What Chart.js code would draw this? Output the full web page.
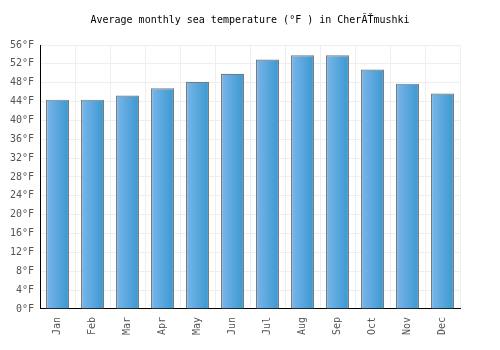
<!DOCTYPE html>
<html>
<head>
<meta charset="utf-8">
<script src="https://cdn.jsdelivr.net/npm/chart.js@4/dist/chart.umd.min.js"></script>
<style>
  html, body { margin: 0; padding: 0; background: #fff; }
  #wrap { width: 500px; height: 350px; }
</style>
</head>
<body>
<div id="wrap"><canvas id="chart" width="500" height="350"></canvas></div>
<script>
const months = ['Jan', 'Feb', 'Mar', 'Apr', 'May', 'Jun', 'Jul', 'Aug', 'Sep', 'Oct', 'Nov', 'Dec'];
const seaTempF = [44.4, 44.4, 45.3, 46.8, 48.2, 49.9, 52.9, 53.8, 53.8, 50.8, 47.8, 45.7];
const yMin = 0;
const yMax = 56;
const yStep = 4;
const titleText = 'Average monthly sea temperature (°F ) in CherĂŤmushki';

const mono = 'DejaVu Sans Mono, monospace';
const barPct = 0.66;

// left-to-right blue gradient for each bar, built from the x scale
function barFill(c) {
  const chart = c.chart;
  const xs = chart.scales.x;
  if (!xs || !chart.chartArea || c.dataIndex === undefined) return '#5aa8de';
  const cx = xs.getPixelForValue(c.dataIndex);
  const half = (chart.chartArea.width / months.length) * barPct / 2;
  const g = chart.ctx.createLinearGradient(cx - half, 0, cx + half, 0);
  g.addColorStop(0, '#7ab6ea');
  g.addColorStop(1, '#3a98d0');
  return g;
}

new Chart(document.getElementById('chart'), {
  type: 'bar',
  data: {
    labels: months,
    datasets: [{
      data: seaTempF,
      backgroundColor: barFill,
      borderColor: '#7a7a7a',
      borderWidth: 1.2,
      borderSkipped: 'bottom',
      barPercentage: barPct,
      categoryPercentage: 1
    }]
  },
  options: {
    responsive: false,
    animation: false,
    layout: { padding: { left: 4, right: 4, top: 6, bottom: 7 } },
    plugins: {
      legend: { display: false },
      tooltip: { enabled: false },
      title: {
        display: true,
        text: titleText,
        color: '#000',
        font: { family: mono, size: 10, weight: 'normal' },
        padding: { top: 8, bottom: 19 }
      }
    },
    scales: {
      x: {
        grid: { color: '#eeeeee', offset: true, drawTicks: false },
        border: { color: '#000', width: 1 },
        ticks: {
          color: '#555',
          font: { family: mono, size: 10 },
          maxRotation: 90,
          minRotation: 90,
          padding: 8
        }
      },
      y: {
        min: yMin,
        max: yMax,
        grid: { color: '#eeeeee', drawTicks: false },
        border: { color: '#000', width: 1 },
        ticks: {
          stepSize: yStep,
          color: '#555',
          font: { family: mono, size: 10 },
          padding: 6,
          callback: v => v + '°F'
        }
      },
      // empty right axis, only reserves space so the title stays centred on the canvas
      yRight: {
        position: 'right',
        min: yMin,
        max: yMax,
        grid: { display: false },
        border: { display: false },
        ticks: { display: false },
        afterFit: s => { s.width = 36; }
      }
    }
  }
});
</script>
</body>
</html>
